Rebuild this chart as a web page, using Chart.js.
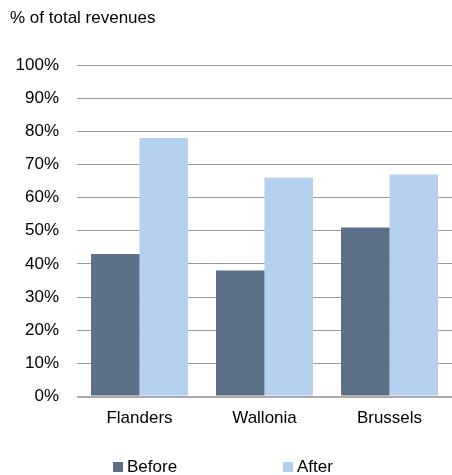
<!DOCTYPE html>
<html>
<head>
<meta charset="utf-8">
<script src="https://cdn.jsdelivr.net/npm/chart.js@4"></script>
<style>
  html, body { margin: 0; padding: 0; background: #fff; }
  #wrap { width: 452px; height: 475px; position: relative; }
  .legend-item { position: absolute; top: 457px; font: 17px Arial, "Liberation Sans", sans-serif; color: #000; line-height: 20px; white-space: nowrap; }
  .legend-item i { display: inline-block; width: 10px; height: 10px; margin-right: 4px; vertical-align: 0px; }
</style>
</head>
<body>
<div id="wrap">
  <canvas id="chart"></canvas>
  <div id="legend"></div>
</div>
<script>
// regions and shares of total revenues (%)
const regions = ['Flanders', 'Wallonia', 'Brussels'];
const before = [43, 38, 51];
const after = [78, 66, 67];
const yTicks = [0, 10, 20, 30, 40, 50, 60, 70, 80, 90, 100];

const font = 'Arial, "Liberation Sans", sans-serif';

const chart = new Chart(document.getElementById('chart'), {
  type: 'bar',
  data: {
    labels: regions,
    datasets: [
      { label: 'Before', data: before, backgroundColor: '#5b7086', borderWidth: 0 },
      { label: 'After', data: after, backgroundColor: '#b4d0ee', borderWidth: 0 },
    ],
  },
  options: {
    responsive: true,
    maintainAspectRatio: false,
    animation: false,
    layout: { padding: { left: 10, right: 0, top: 0, bottom: 34 } },
    datasets: { bar: { categoryPercentage: 0.776, barPercentage: 1 } },
    plugins: {
      title: {
        display: true,
        text: '% of total revenues',
        align: 'start',
        color: '#000',
        font: { family: font, size: 17, weight: 'normal' },
        padding: { top: 8, bottom: 36.6 },
      },
      legend: { display: false },
      tooltip: { enabled: false },
    },
    scales: {
      x: {
        grid: { display: false, drawTicks: false },
        border: { display: false },
        ticks: { color: '#000', padding: 12, font: { family: font, size: 17 } },
      },
      y: {
        min: 0,
        max: 100,
        afterBuildTicks: s => { s.ticks = yTicks.map(v => ({ value: v })); },
        afterFit: s => { s.width = 67; },
        grid: {
          drawTicks: false,
          color: c => c.tick.value === 0 ? '#aaaaaa' : '#999999',
          lineWidth: c => c.tick.value === 0 ? 2 : 1,
        },
        border: { display: false },
        ticks: {
          color: '#000',
          padding: 18,
          font: { family: font, size: 17 },
          callback: v => v + '%',
        },
      },
    },
  },
});

// legend laid out like the original (wide gap between the two entries)
const legendX = [113, 283];
document.getElementById('legend').innerHTML = chart.data.datasets.map((d, i) =>
  `<span class="legend-item" style="left:${legendX[i]}px"><i style="background:${d.backgroundColor}"></i>${d.label}</span>`
).join('');
</script>
</body>
</html>
